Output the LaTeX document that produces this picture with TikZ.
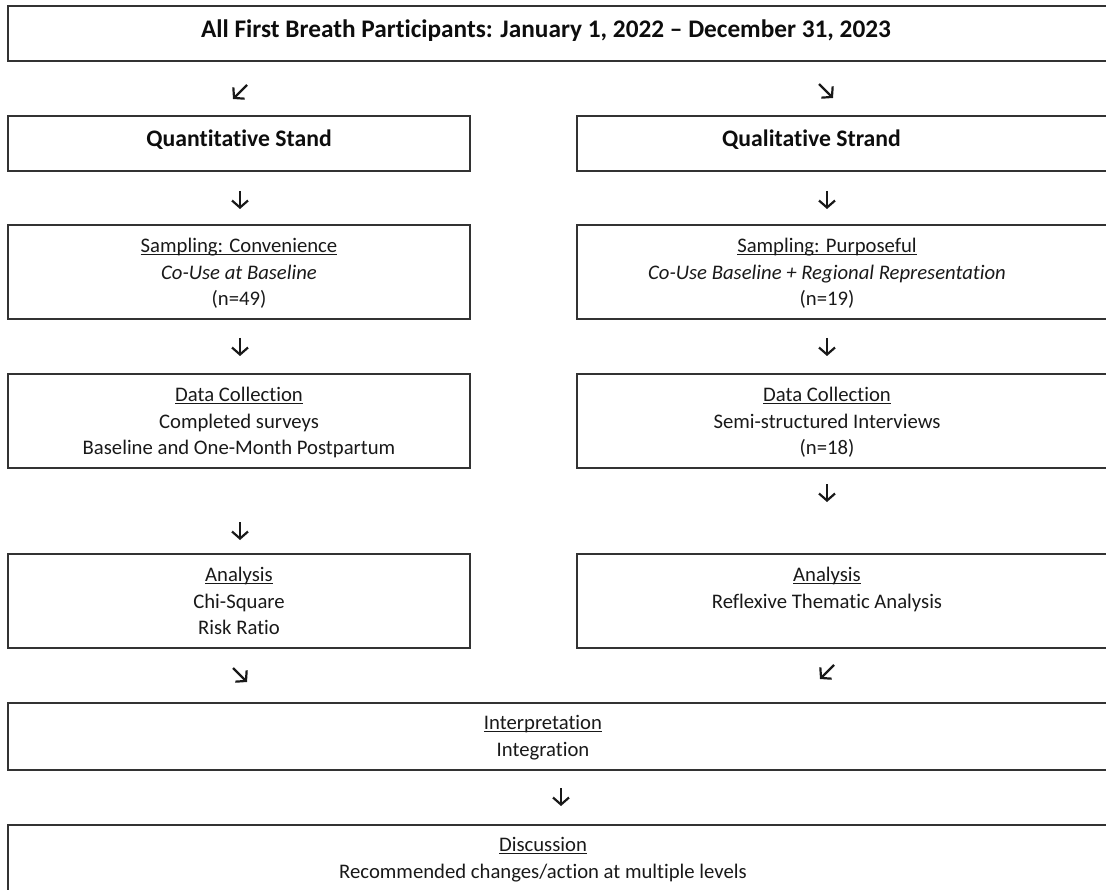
\documentclass[tikz,border=0pt]{standalone}
\usepackage{fontspec}
\setmainfont{Carlito}[Ligatures={NoCommon,NoContextual}]
\usetikzlibrary{arrows.meta}
\newcommand{\myul}[1]{\setbox0\hbox{#1}\rlap{\rule[-2.8pt]{\wd0}{1.2pt}}\box0}
\newcommand{\myasc}{\rule{0pt}{17pt}}
\newcommand{\myhasc}{\rule{0pt}{19pt}}
\begin{document}
\begin{tikzpicture}[x=1pt,y=-1pt,
  box/.style={draw=black!80, line width=1.3pt, rectangle, inner sep=0pt},
  txt/.style={align=center, inner sep=0pt, anchor=north, text=black!90,
    font=\fontsize{20.7pt}{26.5pt}\selectfont},
  head/.style={inner sep=0pt, anchor=north, text=black!95,
    font=\bfseries\fontsize{23.7pt}{28pt}\selectfont},
  title/.style={inner sep=0pt, anchor=north, text=black!95,
    font=\bfseries\fontsize{25.3pt}{29pt}\selectfont},
  arr/.style={line width=2.2pt, black!90, -{Straight Barb[length=7pt, width=16pt]}},
]
\path[use as bounding box] (0,0) rectangle (1106,890);
\clip (0,0) rectangle (1106,890);

% top
\node[box, minimum width=1106pt, minimum height=55pt,
  label={[title, xshift=-15pt, yshift=-13pt]north:\myhasc All First Breath Participants: January 1, 2022 -- December 31, 2023}]
  (all) at (561,33.5) {};

% strands
\node[box, minimum width=462pt, minimum height=55pt,
  label={[head, yshift=-12pt]north:\myhasc Quantitative Stand}]
  (quant) at (239,143.5) {};
\node[box, minimum width=543pt, minimum height=55pt,
  label={[head, xshift=-37pt, yshift=-12pt]north:\myhasc Qualitative Strand}]
  (qual) at (848.5,143.5) {};

% sampling
\node[box, minimum width=462pt, minimum height=94pt,
  label={[txt, yshift=-11pt]north:\myasc\myul{Sampling: Convenience}\\\textit{Co-Use at Baseline}\\(n=49)}]
  (sampq) at (239,272) {};
\node[box, minimum width=543pt, minimum height=94pt,
  label={[txt, xshift=-21.5pt, yshift=-11pt]north:\myasc\myul{Sampling: Purposeful}\\\textit{Co-Use Baseline + Regional Representation}\\(n=19)}]
  (sampl) at (848.5,272) {};

% data collection
\node[box, minimum width=462pt, minimum height=94pt,
  label={[txt, yshift=-11pt]north:\myasc\myul{Data Collection}\\Completed surveys\\Baseline and One-Month Postpartum}]
  (dcq) at (239,421) {};
\node[box, minimum width=543pt, minimum height=94pt,
  label={[txt, xshift=-21.5pt, yshift=-11pt]north:\myasc\myul{Data Collection}\\Semi-structured Interviews\\(n=18)}]
  (dcl) at (848.5,421) {};

% analysis
\node[box, minimum width=462pt, minimum height=94pt,
  label={[txt, yshift=-11pt]north:\myasc\myul{Analysis}\\Chi-Square\\Risk Ratio}]
  (anq) at (239,601) {};
\node[box, minimum width=543pt, minimum height=94pt,
  label={[txt, xshift=-21.5pt, yshift=-11pt]north:\myasc\myul{Analysis}\\Reflexive Thematic Analysis}]
  (anl) at (848.5,601) {};

% interpretation
\node[box, minimum width=1106pt, minimum height=67pt,
  label={[txt, xshift=-18pt, yshift=-10pt]north:\myasc\myul{Interpretation}\\Integration}]
  (interp) at (561,736.5) {};

% discussion
\node[box, minimum width=1106pt, minimum height=110pt,
  label={[txt, xshift=-18pt, yshift=-10pt]north:\myasc\myul{Discussion}\\Recommended changes/action at multiple levels}]
  (disc) at (561,880) {};

% arrows
\coordinate (a1s) at (247,85);  \coordinate (a1e) at (233,99);
\coordinate (a2s) at (819,84);  \coordinate (a2e) at (833,98);
\coordinate (a3s) at (240,191); \coordinate (a3e) at (240,209);
\coordinate (a4s) at (827,191); \coordinate (a4e) at (827,209);
\coordinate (a5s) at (240,338); \coordinate (a5e) at (240,356);
\coordinate (a6s) at (827,338); \coordinate (a6e) at (827,356);
\coordinate (a7s) at (240,522); \coordinate (a7e) at (240,540);
\coordinate (a8s) at (827,484); \coordinate (a8e) at (827,502);
\coordinate (a9s) at (233,668); \coordinate (a9e) at (247,682);
\coordinate (a10s) at (834,665); \coordinate (a10e) at (820,679);
\coordinate (a11s) at (561,788); \coordinate (a11e) at (561,806);
\foreach \i in {1,...,11} { \draw[arr] (a\i s) -- (a\i e); }
\end{tikzpicture}
\end{document}
